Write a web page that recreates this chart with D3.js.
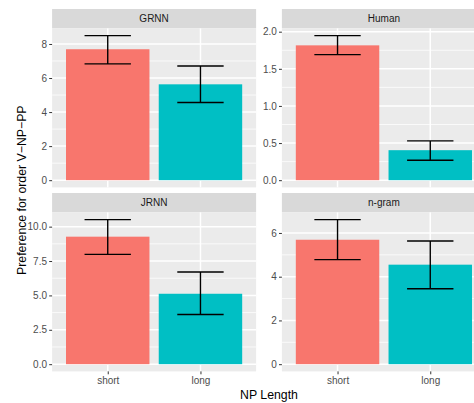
<!DOCTYPE html>
<html>
<head>
<meta charset="utf-8">
<script src="https://cdn.jsdelivr.net/npm/d3@7"></script>
<style>
  html, body { margin: 0; padding: 0; background: #ffffff; }
  svg { display: block; font-family: "Liberation Sans", Arial, Helvetica, sans-serif; }
</style>
</head>
<body>
<svg id="chart" width="474" height="403"></svg>
<script>
// Facet panels (one per model) and the two NP lengths on the x axis
const models = ["GRNN", "Human", "JRNN", "n-gram"];
const lengths = ["short", "long"];

// Mean preference and error-bar bounds per model
const meanShort = [7.69, 1.816, 9.27, 5.69];
const meanLong  = [5.63, 0.404, 5.12, 4.55];
const lowShort  = [6.83, 1.691, 7.98, 4.78];
const highShort = [8.49, 1.947, 10.51, 6.61];
const lowLong   = [4.56, 0.269, 3.61, 3.45];
const highLong  = [6.71, 0.529, 6.70, 5.63];

// Y tick values and label precision per panel
const yTicks = [[0, 2, 4, 6, 8], [0, 0.5, 1, 1.5, 2], [0, 2.5, 5, 7.5, 10], [0, 2, 4, 6]];
const yMinor = [[1, 3, 5, 7], [0.25, 0.75, 1.25, 1.75], [1.25, 3.75, 6.25, 8.75], [1, 3, 5]];
const yDigits = [0, 1, 1, 0];

const fills = ["#F8766D", "#00BFC4"];

const svg = d3.select("#chart");

const panelW = 204, panelH = 159, stripH = 19.4;
const colX = [52.1, 281.9];
const rowY = [9, 193];
const tickFont = 10, stripFont = 10, titleFont = 12.3;

models.forEach((model, i) => {
  const col = i % 2, row = Math.floor(i / 2);
  const px = colX[col];
  const sy = rowY[row];
  const py = sy + stripH;

  const rows = lengths.map((len, k) => ({
    len,
    mean: k === 0 ? meanShort[i] : meanLong[i],
    lo: k === 0 ? lowShort[i] : lowLong[i],
    hi: k === 0 ? highShort[i] : highLong[i]
  }));

  const top = d3.max(rows, d => Math.max(d.hi, d.mean));
  const pad = top * 0.05;
  const y = d3.scaleLinear().domain([-pad, top + pad]).range([py + panelH, py]);
  const x = d3.scalePoint().domain(lengths).range([px, px + panelW]).padding(0.6);
  const step = x.step();

  const g = svg.append("g");

  // strip
  g.append("rect").attr("x", px).attr("y", sy).attr("width", panelW).attr("height", stripH)
    .attr("fill", "#D9D9D9");
  g.append("text").attr("x", px + panelW / 2).attr("y", sy + stripH / 2)
    .attr("dy", "0.35em").attr("text-anchor", "middle")
    .attr("font-size", stripFont).attr("fill", "#1A1A1A").text(model);

  // panel background
  g.append("rect").attr("x", px).attr("y", py).attr("width", panelW).attr("height", panelH)
    .attr("fill", "#EBEBEB");

  // grid
  g.selectAll(".minor").data(yMinor[i]).join("line")
    .attr("x1", px).attr("x2", px + panelW)
    .attr("y1", d => y(d)).attr("y2", d => y(d))
    .attr("stroke", "#ffffff").attr("stroke-width", 0.75);
  g.selectAll(".major").data(yTicks[i]).join("line")
    .attr("x1", px).attr("x2", px + panelW)
    .attr("y1", d => y(d)).attr("y2", d => y(d))
    .attr("stroke", "#ffffff").attr("stroke-width", 1.5);
  g.selectAll(".vmajor").data(lengths).join("line")
    .attr("x1", d => x(d)).attr("x2", d => x(d))
    .attr("y1", py).attr("y2", py + panelH)
    .attr("stroke", "#ffffff").attr("stroke-width", 1.5);

  // bars
  g.selectAll(".bar").data(rows).join("rect")
    .attr("x", d => x(d.len) - step * 0.45)
    .attr("width", step * 0.9)
    .attr("y", d => y(d.mean))
    .attr("height", d => y(0) - y(d.mean))
    .attr("fill", (d, k) => fills[k]);

  // error bars
  const eb = g.selectAll(".eb").data(rows).join("g");
  eb.append("line")
    .attr("x1", d => x(d.len)).attr("x2", d => x(d.len))
    .attr("y1", d => y(d.lo)).attr("y2", d => y(d.hi));
  eb.append("line")
    .attr("x1", d => x(d.len) - step * 0.25).attr("x2", d => x(d.len) + step * 0.25)
    .attr("y1", d => y(d.hi)).attr("y2", d => y(d.hi));
  eb.append("line")
    .attr("x1", d => x(d.len) - step * 0.25).attr("x2", d => x(d.len) + step * 0.25)
    .attr("y1", d => y(d.lo)).attr("y2", d => y(d.lo));
  eb.selectAll("line").attr("stroke", "#000000").attr("stroke-width", 1.4);

  // y axis
  const yAxis = d3.axisLeft(y).tickValues(yTicks[i])
    .tickFormat(d3.format("." + yDigits[i] + "f"))
    .tickSize(2.9).tickPadding(2.2);
  const ya = g.append("g").attr("transform", `translate(${px},0)`).call(yAxis);
  ya.select(".domain").remove();
  ya.selectAll(".tick line").attr("stroke", "#333333").attr("stroke-width", 1);
  ya.selectAll(".tick text").attr("fill", "#4D4D4D").attr("font-size", tickFont)
    .attr("font-family", "Liberation Sans, Arial, sans-serif");

  // x axis on bottom row
  if (row === 1) {
    const xAxis = d3.axisBottom(x).tickSize(2.9).tickPadding(2.2);
    const xa = g.append("g").attr("transform", `translate(0,${py + panelH})`).call(xAxis);
    xa.select(".domain").remove();
    xa.selectAll(".tick line").attr("stroke", "#333333").attr("stroke-width", 1);
    xa.selectAll(".tick text").attr("fill", "#4D4D4D").attr("font-size", tickFont)
      .attr("font-family", "Liberation Sans, Arial, sans-serif");
  }
});

// axis titles
const plotLeft = colX[0], plotRight = colX[1] + panelW;
svg.append("text")
  .attr("x", (plotLeft + plotRight) / 2).attr("y", 398.5)
  .attr("text-anchor", "middle").attr("font-size", titleFont).attr("fill", "#000000")
  .text("NP Length");
const midY = (rowY[0] + rowY[1] + stripH + panelH) / 2;
svg.append("text")
  .attr("transform", `translate(26,${midY}) rotate(-90)`)
  .attr("text-anchor", "middle").attr("font-size", titleFont).attr("fill", "#000000")
  .text("Preference for order V\u2212NP\u2212PP");
</script>
</body>
</html>
